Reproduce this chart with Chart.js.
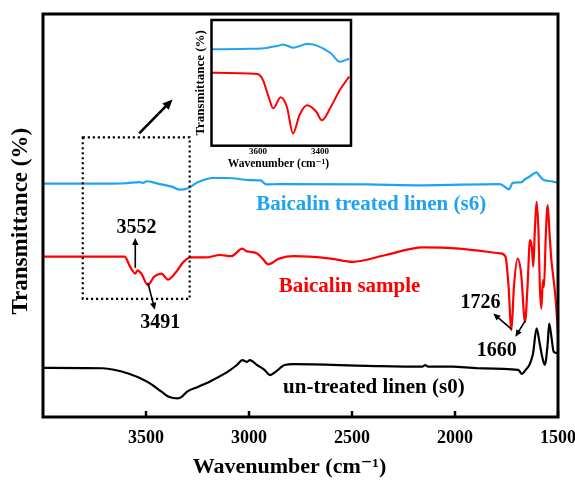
<!DOCTYPE html>
<html>
<head>
<meta charset="utf-8">
<title>FTIR spectra of linen and baicalin</title>
<script src="https://cdn.jsdelivr.net/npm/chart.js@4/dist/chart.umd.min.js"></script>
<style>
  html, body { margin: 0; padding: 0; background: #ffffff; }
  #wrap { position: relative; width: 575px; height: 481px; }
  #main { position: absolute; left: 0; top: 0; }
  #inset { position: absolute; left: 186px; top: 15px; }
</style>
</head>
<body>
<div id="wrap">
  <canvas id="main" width="575" height="481"></canvas>
  <canvas id="inset" width="172" height="160"></canvas>
</div>
<script>
// ---- spectra (wavenumber in cm-1, transmittance in offset arbitrary units) ----
const s0Wavenumber = [4000, 3711, 3586, 3496, 3425, 3389, 3345, 3327, 3300, 3246, 3175, 3104, 3059, 3032, 3010, 2996, 2961, 2925, 2898, 2871, 2827, 2782, 2425, 2157, 2145, 2130, 2014, 1889, 1693, 1675, 1657, 1639, 1630, 1621, 1604, 1589, 1577, 1564, 1550, 1543, 1532, 1521, 1500];
const s0Transmittance = [12.2, 12.1, 10.8, 8.8, 6.3, 5.0, 4.6, 5.0, 6.3, 7.5, 9.2, 11.2, 12.9, 14.1, 13.7, 14.1, 12.9, 11.7, 10.4, 11.2, 12.9, 13.1, 12.7, 12.5, 12.9, 12.5, 12.5, 12.1, 11.7, 10.7, 11.7, 12.9, 14.1, 15.8, 22.0, 18.3, 15.0, 12.9, 18.3, 23.2, 19.9, 16.2, 15.8];

const s6Wavenumber = [4000, 3700, 3600, 3532, 3515, 3496, 3443, 3371, 3336, 3300, 3246, 3175, 3104, 2996, 2943, 2916, 2854, 2425, 2157, 1782, 1738, 1720, 1675, 1663, 1639, 1604, 1586, 1568, 1532, 1500];
const s6Transmittance = [57.9, 57.9, 58.0, 58.3, 58.1, 58.5, 57.9, 57.1, 56.4, 56.7, 58.3, 59.3, 59.3, 58.8, 58.7, 57.7, 57.8, 57.7, 57.5, 57.8, 56.5, 58.1, 58.3, 58.9, 59.6, 60.7, 59.6, 58.8, 58.5, 58.1];

const baicalinWavenumber = [4000, 3604, 3577, 3552, 3541, 3523, 3491, 3461, 3425, 3393, 3354, 3318, 3282, 3211, 3139, 3086, 3032, 3015, 2996, 2961, 2934, 2907, 2854, 2782, 2604, 2496, 2336, 2157, 1979, 1782, 1755, 1741, 1726, 1714, 1696, 1679, 1660, 1648, 1636, 1627, 1620, 1613, 1604, 1595, 1588, 1581, 1573, 1568, 1559, 1550, 1541, 1532, 1523, 1511, 1500];
const baicalinTransmittance = [39.8, 39.8, 37.3, 35.6, 36.4, 35.6, 32.7, 34.8, 35.6, 34.1, 36.0, 38.5, 39.6, 39.6, 40.2, 39.9, 41.8, 41.2, 41.0, 40.6, 39.3, 37.9, 39.3, 39.9, 39.3, 38.5, 40.2, 42.1, 41.8, 40.6, 39.8, 33.1, 21.6, 32.3, 39.3, 35.6, 23.6, 32.3, 43.9, 42.2, 37.3, 45.5, 53.4, 46.4, 32.3, 26.9, 34.0, 32.3, 45.5, 52.6, 45.5, 38.9, 34.8, 29.0, 20.7];

// enlarged O-H region (3750-3300 cm-1)
const insetS6Wavenumber = [3750, 3650, 3580, 3549, 3535, 3519, 3487, 3442, 3412, 3365, 3336, 3306];
const insetS6Transmittance = [76.7, 77.0, 77.5, 79.0, 79.5, 80.6, 78.0, 80.9, 79.8, 73.5, 66.8, 69.2];
const insetBaicalinWavenumber = [3750, 3602, 3584, 3566, 3551, 3527, 3507, 3487, 3466, 3442, 3412, 3394, 3365, 3336, 3306];
const insetBaicalinTransmittance = [58.1, 57.0, 52.3, 39.0, 29.7, 38.5, 31.0, 9.8, 24.4, 32.1, 27.0, 20.2, 31.0, 44.3, 54.9];

const xTickValues = [3500, 3000, 2500, 2000, 1500];
const insetTickValues = [3600, 3400];
const markedPeaks = [3552, 3491, 1726, 1660];

const SERIF = '"Liberation Serif", "Times New Roman", "DejaVu Serif", serif';
const BLUE = '#1ea2f3';
const RED = '#ff0000';
const BLACK = '#000000';
const EN_SPACE = '\u2002';

const toPoints = (xs, ys) => xs.map((x, i) => ({ x: x, y: ys[i] }));

const lineStyle = (color, width) => ({
  borderColor: color,
  backgroundColor: color,
  borderWidth: width,
  pointRadius: 0,
  fill: false,
  cubicInterpolationMode: 'monotone'
});

// ---- overlay drawing helpers (all positions go through the chart scales) ----
function drawArrow(ctx, x1, y1, x2, y2, width, head) {
  const ang = Math.atan2(y2 - y1, x2 - x1);
  ctx.save();
  ctx.strokeStyle = BLACK;
  ctx.fillStyle = BLACK;
  ctx.lineWidth = width;
  ctx.beginPath();
  ctx.moveTo(x1, y1);
  ctx.lineTo(x2 - Math.cos(ang) * head * 0.8, y2 - Math.sin(ang) * head * 0.8);
  ctx.stroke();
  ctx.beginPath();
  ctx.moveTo(x2, y2);
  ctx.lineTo(x2 - head * Math.cos(ang) + head * 0.45 * Math.sin(ang),
             y2 - head * Math.sin(ang) - head * 0.45 * Math.cos(ang));
  ctx.lineTo(x2 - head * Math.cos(ang) - head * 0.45 * Math.sin(ang),
             y2 - head * Math.sin(ang) + head * 0.45 * Math.cos(ang));
  ctx.closePath();
  ctx.fill();
  ctx.restore();
}

const frameAndTicks = {
  id: 'frameAndTicks',
  afterDraw(chart, args, opts) {
    const { ctx, chartArea: ca } = chart;
    const xs = chart.scales.x;
    ctx.save();
    ctx.strokeStyle = BLACK;
    ctx.lineWidth = opts.tickWidth;
    if (opts.tickLength > 0) {
      (opts.ticks || []).forEach(v => {
        const px = xs.getPixelForValue(v);
        ctx.beginPath();
        ctx.moveTo(px, ca.bottom);
        ctx.lineTo(px, ca.bottom - opts.tickLength);
        ctx.stroke();
      });
    }
    ctx.lineWidth = opts.frameWidth;
    ctx.strokeRect(ca.left, ca.top, ca.right - ca.left, ca.bottom - ca.top);
    ctx.restore();
  }
};

// labels, peak markers and the zoom box of the main plot
const callouts = {
  id: 'callouts',
  afterDatasetsDraw(chart) {
    const { ctx } = chart;
    const xs = chart.scales.x, ys = chart.scales.y;
    const X = v => xs.getPixelForValue(v);
    const Y = v => ys.getPixelForValue(v);

    // dotted box around the enlarged region
    ctx.save();
    ctx.strokeStyle = BLACK;
    ctx.lineWidth = 2.2;
    ctx.setLineDash([2.2, 2.8]);
    ctx.strokeRect(X(3807), Y(69.4), X(3288) - X(3807), Y(29.3) - Y(69.4));
    ctx.restore();

    // arrow pointing to the enlarged view
    drawArrow(ctx, X(3533), Y(70.4), X(3371), Y(78.8), 2.6, 10);

    // series names
    ctx.save();
    ctx.textAlign = 'center';
    ctx.textBaseline = 'middle';
    ctx.font = 'bold 21px ' + SERIF;
    ctx.fillStyle = BLUE;
    ctx.fillText('Baicalin treated linen (s6)', X(2407), Y(52.6));
    ctx.fillStyle = RED;
    ctx.fillText('Baicalin sample', X(2512), Y(32.3));
    ctx.fillStyle = BLACK;
    ctx.fillText('un-treated linen (s0)', X(2394), Y(7.3));

    // peak positions
    const [p1, p2, p3, p4] = markedPeaks;
    ctx.font = 'bold 20px ' + SERIF;
    ctx.fillText(String(p1), X(3546), Y(47.0));
    ctx.fillText(String(p2), X(3431), Y(23.4));
    ctx.fillText(String(p3), X(1876), Y(28.4));
    ctx.fillText(String(p4), X(1797), Y(16.5));
    ctx.restore();

    drawArrow(ctx, X(p1), Y(37.0), X(p1), Y(44.4), 1.6, 7);
    drawArrow(ctx, X(p2), Y(33.3), X(3457), Y(26.6), 1.6, 7);
    drawArrow(ctx, X(p3), Y(21.8), X(1814), Y(25.7), 1.6, 7);
    drawArrow(ctx, X(p4), Y(23.8), X(1707), Y(19.9), 1.6, 7);
  }
};

const fixedTicks = values => scale => {
  scale.ticks = values.map(v => ({ value: v }));
};

// ---- main chart ----
new Chart(document.getElementById('main'), {
  type: 'line',
  data: {
    datasets: [
      Object.assign({ label: 'Baicalin treated linen (s6)', data: toPoints(s6Wavenumber, s6Transmittance) }, lineStyle(BLUE, 2.2)),
      Object.assign({ label: 'Baicalin sample', data: toPoints(baicalinWavenumber, baicalinTransmittance) }, lineStyle(RED, 2.2)),
      Object.assign({ label: 'un-treated linen (s0)', data: toPoints(s0Wavenumber, s0Transmittance) }, lineStyle(BLACK, 2.2))
    ]
  },
  options: {
    responsive: false,
    animation: false,
    devicePixelRatio: 1,
    layout: { padding: { left: 0, right: 17, top: 14, bottom: 0 } },
    plugins: {
      legend: { display: false },
      tooltip: { enabled: false },
      frameAndTicks: { ticks: xTickValues, tickLength: 6, tickWidth: 2.5, frameWidth: 3 }
    },
    scales: {
      x: {
        type: 'linear',
        min: 1500,
        max: 4000,
        reverse: true,
        afterBuildTicks: fixedTicks(xTickValues),
        afterFit: s => { s.height = 64; s.paddingLeft = 0; s.paddingRight = 0; },
        grid: { display: false, drawTicks: false },
        border: { display: false },
        ticks: {
          color: BLACK,
          padding: 11,
          maxRotation: 0,
          font: { family: SERIF, size: 18, weight: 'bold' },
          callback: v => String(v)
        },
        title: {
          display: true,
          text: 'Wavenumber (cm⁻¹)' + EN_SPACE + EN_SPACE,
          color: BLACK,
          padding: { top: 0, bottom: 0 },
          font: { family: SERIF, size: 22, weight: 'bold' }
        }
      },
      y: {
        type: 'linear',
        min: 0,
        max: 100,
        afterFit: s => { s.width = 43; },
        grid: { display: false, drawTicks: false },
        border: { display: false },
        ticks: { display: false },
        title: {
          display: true,
          text: 'Transmittance (%)' + EN_SPACE,
          color: BLACK,
          padding: { top: 7, bottom: 0 },
          font: { family: SERIF, size: 23, weight: 'bold' }
        }
      }
    }
  },
  plugins: [frameAndTicks, callouts]
});

// ---- inset: enlarged 3750-3300 cm-1 region ----
new Chart(document.getElementById('inset'), {
  type: 'line',
  data: {
    datasets: [
      Object.assign({ label: 'Baicalin treated linen (s6)', data: toPoints(insetS6Wavenumber, insetS6Transmittance) }, lineStyle(BLUE, 2)),
      Object.assign({ label: 'Baicalin sample', data: toPoints(insetBaicalinWavenumber, insetBaicalinTransmittance) }, lineStyle(RED, 2))
    ]
  },
  options: {
    responsive: false,
    animation: false,
    devicePixelRatio: 1,
    layout: { padding: { left: 0, right: 7, top: 5, bottom: 0 } },
    plugins: {
      legend: { display: false },
      tooltip: { enabled: false },
      frameAndTicks: { ticks: insetTickValues, tickLength: 0, tickWidth: 1, frameWidth: 2.5 }
    },
    scales: {
      x: {
        type: 'linear',
        min: 3300,
        max: 3750,
        reverse: true,
        afterBuildTicks: fixedTicks(insetTickValues),
        afterFit: s => { s.height = 29.3; s.paddingLeft = 0; s.paddingRight = 0; },
        grid: { display: false, drawTicks: false },
        border: { display: false },
        ticks: {
          color: BLACK,
          padding: 1,
          maxRotation: 0,
          font: { family: SERIF, size: 9, weight: 'bold' },
          callback: v => String(v)
        },
        title: {
          display: true,
          text: 'Wavenumber (cm⁻¹)' + EN_SPACE,
          color: BLACK,
          padding: { top: 0, bottom: 4 },
          font: { family: SERIF, size: 11.5, weight: 'bold' }
        }
      },
      y: {
        type: 'linear',
        min: 0,
        max: 100,
        afterFit: s => { s.width = 25.5; },
        grid: { display: false, drawTicks: false },
        border: { display: false },
        ticks: { display: false },
        title: {
          display: true,
          text: 'Transmittance (%)',
          color: BLACK,
          padding: { top: 6.7, bottom: 0 },
          font: { family: SERIF, size: 13, weight: 'bold' }
        }
      }
    }
  },
  plugins: [frameAndTicks]
});
</script>
</body>
</html>
